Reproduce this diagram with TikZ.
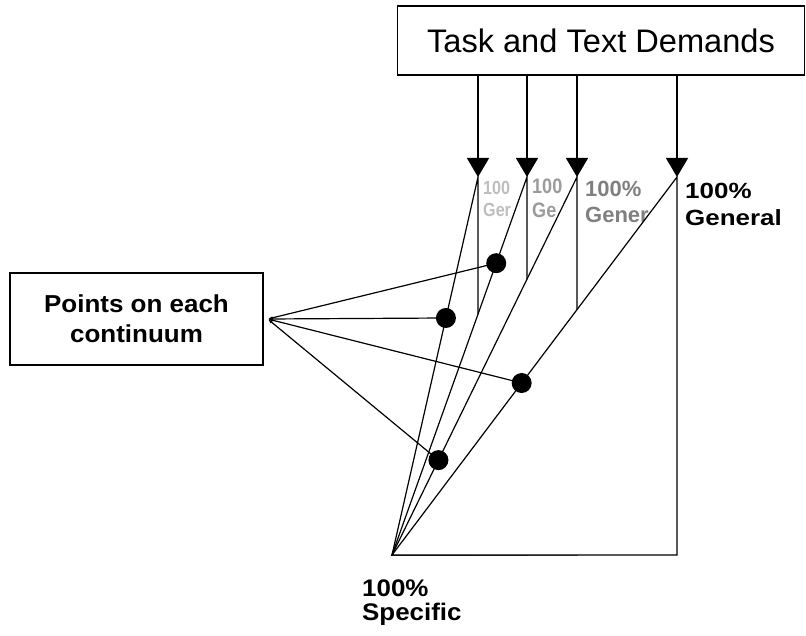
\documentclass[tikz,border=0pt]{standalone}
\usepackage{fontspec}
\setmainfont{Liberation Sans}
\newfontfamily\ptsfont[FakeStretch=1.06]{Liberation Sans}
\newfontfamily\genfont[FakeStretch=1.18]{Liberation Sans}
\newfontfamily\spcfont[FakeStretch=1.08]{Liberation Sans}
\newfontfamily\genfontb[FakeStretch=0.86]{Liberation Sans}
\newfontfamily\genfonta[FakeStretch=0.85]{Liberation Sans}
\usetikzlibrary{arrows.meta,calc}
\definecolor{ctGreyA}{RGB}{190,190,190}
\definecolor{ctGreyB}{RGB}{155,155,155}
\definecolor{ctGreyC}{RGB}{128,128,128}

\begin{document}
\begin{tikzpicture}[x=1pt,y=-1pt,
  every node/.style={inner sep=0pt},
  box/.style={draw,line width=1.4pt,align=center},
  cont/.style={draw,line width=1.2pt,fill=white,line join=miter},
  demand/.style={line width=1.4pt,-{Triangle[length=19pt,width=22pt]}},
  pick/.style={line width=1.2pt,-{Latex[length=5pt,width=3pt]}},
  dot/.style={circle,fill=black,minimum size=20pt},
  lbl/.style={anchor=north west,align=left}
]
\useasboundingbox (0,0) rectangle (806,636);

\node[box,minimum width=407pt,minimum height=69pt,
      font=\fontsize{32.6}{39}\selectfont] (TTD) at (601,40.5)
  {Task and Text Demands};
\node[box,minimum width=253pt,minimum height=92pt,
      font=\ptsfont\bfseries\fontsize{24.5}{30}\selectfont] (POC) at (136.5,319)
  {Points on each\\continuum};

% the four continua, each one laid over the last
\coordinate (S)  at (392,555);
\coordinate (T1) at (478,177);
\coordinate (T2) at (527,177);
\coordinate (T3) at (577,177);
\coordinate (T4) at (677,177);

\draw[cont] (S) -- (T1) -- (S -| T1) -- cycle;
\node[lbl,text=ctGreyA,font=\genfonta\bfseries\fontsize{19}{22}\selectfont]
  (L1) at (483,181) {100\\Ger};
\draw[cont] (S) -- (T2) -- (S -| T2) -- cycle;
\node[lbl,text=ctGreyB,font=\genfontb\bfseries\fontsize{21}{24}\selectfont]
  (L2) at (532,179) {100\\Ge};
\draw[cont] (S) -- (T3) -- (S -| T3) -- cycle;
\node[lbl,text=ctGreyC,font=\bfseries\fontsize{22}{26}\selectfont]
  (L3) at (585,181) {100\%\\Gener};
\draw[cont] (S) -- (T4) -- (S -| T4) -- cycle;
\node[lbl,font=\genfont\bfseries\fontsize{22}{27}\selectfont]
  (L4) at (685,183) {100\%\\General};

\node[lbl,font=\spcfont\bfseries\fontsize{24}{23.5}\selectfont]
  (SPC) at (362,580) {100\%\\Specific};

\foreach \i in {1,...,4}
  \draw[demand] (TTD.south -| T\i) -- (T\i);

% points on the continua
\coordinate (P) at ([xshift=4pt]POC.east);
\coordinate (D1) at ($(S)!0.772!(T2)$);
\coordinate (D2) at ($(S)!0.627!(T1)$);
\coordinate (D3) at ($(S)!0.455!(T4)$);
\coordinate (D4) at ($(S)!0.251!(T3)$);
\foreach \d in {D1,D2,D3,D4}
  \draw[pick] (\d) -- (P);
\foreach \d in {D1,D2,D3,D4}
  \node[dot] at (\d) {};
\end{tikzpicture}
\end{document}
